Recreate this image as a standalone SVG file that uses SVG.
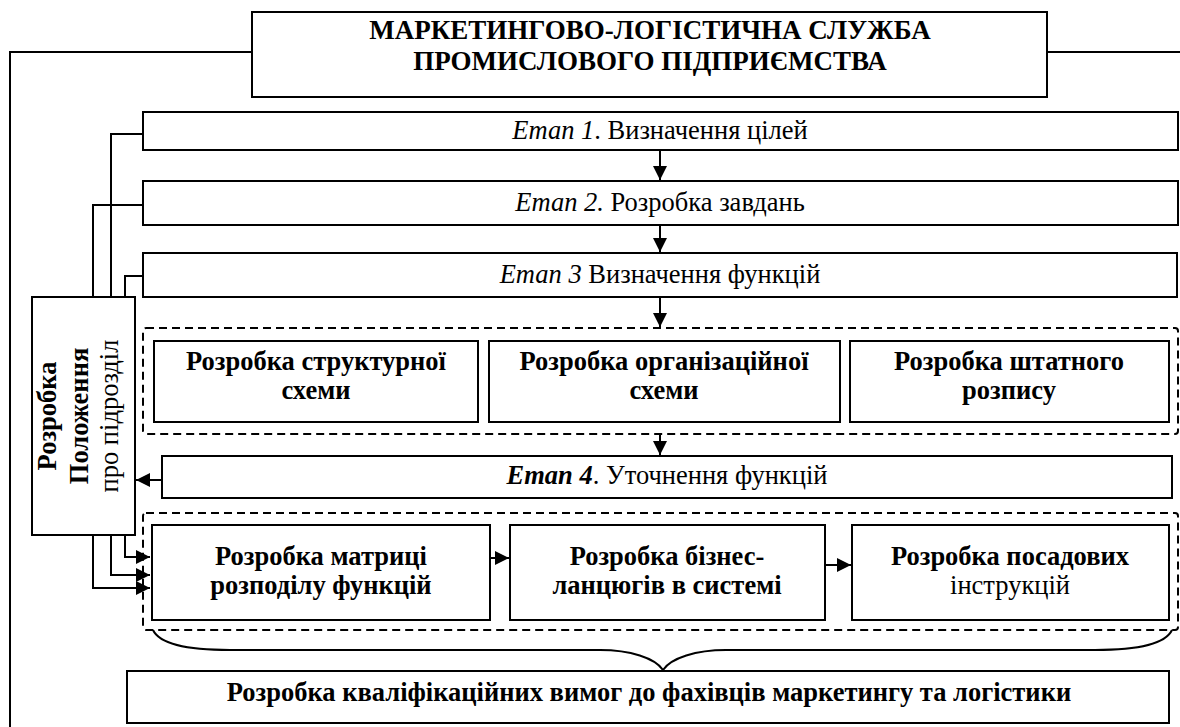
<svg xmlns="http://www.w3.org/2000/svg" width="1180" height="727" viewBox="0 0 1180 727">
<style>
.box{fill:#fff;stroke:#000;stroke-width:2}
.dash{fill:none;stroke:#000;stroke-width:2;stroke-dasharray:8,5}
.ln{fill:none;stroke:#000;stroke-width:2}
.t{font-family:"Liberation Serif","Times New Roman",serif;font-size:26.5px;fill:#000}
.h{font-size:27px}
.b{font-weight:bold}
.i{font-style:italic}
</style>
<defs>
<marker id="ah" markerWidth="14" markerHeight="14" refX="14" refY="7" orient="auto" markerUnits="userSpaceOnUse">
<path d="M0,0 L14,7 L0,14 Z" fill="#000"/>
</marker>
</defs>
<rect width="1180" height="727" fill="#fff"/>
<g id="connectors">
<polyline class="ln" points="252,52 10,52 10,727"/>
<line class="ln" x1="1047" y1="52" x2="1180" y2="52"/>
<polyline class="ln" points="143,134 111,134 111,575 150,575" marker-end="url(#ah)"/>
<polyline class="ln" points="143,205 93,205 93,588 150,588" marker-end="url(#ah)"/>
<polyline class="ln" points="143,276 125,276 125,557 150,557" marker-end="url(#ah)"/>
<line class="ln" x1="660" y1="150" x2="660" y2="180" marker-end="url(#ah)"/>
<line class="ln" x1="660" y1="225" x2="660" y2="252" marker-end="url(#ah)"/>
<line class="ln" x1="660" y1="297" x2="660" y2="327" marker-end="url(#ah)"/>
<line class="ln" x1="660" y1="434" x2="660" y2="455" marker-end="url(#ah)"/>
<line class="ln" x1="162" y1="480" x2="136" y2="480" marker-end="url(#ah)"/>
<line class="ln" x1="490" y1="558" x2="509" y2="558" marker-end="url(#ah)"/>
<line class="ln" x1="825" y1="565" x2="851" y2="565" marker-end="url(#ah)"/>
<path class="ln" d="M153,630 C160,645 190,650 230,650 L600,650 C630,650 655,658 663,670 C671,658 696,650 726,650 L1095,650 C1135,650 1165,645 1172,630"/>
</g>
<g id="title">
<rect class="box" x="252" y="12" width="795" height="85"/>
<text class="t b h" x="650" y="39" text-anchor="middle">МАРКЕТИНГОВО-ЛОГІСТИЧНА СЛУЖБА</text>
<text class="t b h" x="650" y="70" text-anchor="middle">ПРОМИСЛОВОГО ПІДПРИЄМСТВА</text>
</g>
<g id="etap1">
<rect class="box" x="143" y="112" width="1035" height="38"/>
<text class="t" x="660" y="139" text-anchor="middle"><tspan class="i">Етап 1</tspan>. Визначення цілей</text>
</g>
<g id="etap2">
<rect class="box" x="143" y="181" width="1035" height="44"/>
<text class="t" x="660" y="211" text-anchor="middle"><tspan class="i">Етап 2.</tspan> Розробка завдань</text>
</g>
<g id="etap3">
<rect class="box" x="143" y="253" width="1034" height="44"/>
<text class="t" x="660" y="283" text-anchor="middle"><tspan class="i">Етап 3</tspan> Визначення функцій</text>
</g>
<g id="group1">
<rect class="dash" x="143" y="328" width="1035" height="106" rx="3"/>
</g>
<g id="struct">
<rect class="box" x="154" y="341" width="324" height="81"/>
<text class="t b" x="316" y="370" text-anchor="middle">Розробка структурної</text>
<text class="t b" x="316" y="399" text-anchor="middle">схеми</text>
</g>
<g id="org">
<rect class="box" x="489" y="341" width="351" height="81"/>
<text class="t b" x="664" y="370" text-anchor="middle">Розробка організаційної</text>
<text class="t b" x="664" y="399" text-anchor="middle">схеми</text>
</g>
<g id="shtat">
<rect class="box" x="850" y="341" width="319" height="81"/>
<text class="t b" x="1009" y="370" text-anchor="middle">Розробка штатного</text>
<text class="t b" x="1009" y="399" text-anchor="middle">розпису</text>
</g>
<g id="etap4">
<rect class="box" x="162" y="456" width="1010" height="42"/>
<text class="t" x="667" y="484" text-anchor="middle"><tspan class="i b">Етап 4</tspan>. Уточнення функцій</text>
</g>
<g id="polozhennia">
<rect class="box" x="32" y="297" width="103" height="238"/>
<text class="t b" transform="translate(56,416) rotate(-90)" text-anchor="middle">Розробка</text>
<text class="t b" transform="translate(88,416) rotate(-90)" text-anchor="middle">Положення</text>
<text class="t" transform="translate(118,416) rotate(-90)" text-anchor="middle">про підрозділ</text>
</g>
<g id="group2">
<rect class="dash" x="143" y="513" width="1035" height="117" rx="3"/>
</g>
<g id="matrix">
<rect class="box" x="152" y="525" width="338" height="95"/>
<text class="t b" x="321" y="565" text-anchor="middle">Розробка матриці</text>
<text class="t b" x="321" y="594" text-anchor="middle">розподілу функцій</text>
</g>
<g id="business">
<rect class="box" x="510" y="525" width="315" height="95"/>
<text class="t b" x="667" y="565" text-anchor="middle">Розробка бізнес-</text>
<text class="t b" x="667" y="594" text-anchor="middle">ланцюгів в системі</text>
</g>
<g id="posadovi">
<rect class="box" x="852" y="525" width="317" height="95"/>
<text class="t b" x="1010" y="565" text-anchor="middle">Розробка посадових</text>
<text class="t" x="1010" y="594" text-anchor="middle">інструкцій</text>
</g>
<g id="kvalif">
<rect class="box" x="127" y="671" width="1042" height="52"/>
<text class="t b" x="649" y="701" text-anchor="middle">Розробка кваліфікаційних вимог до фахівців маркетингу та логістики</text>
</g>
</svg>
